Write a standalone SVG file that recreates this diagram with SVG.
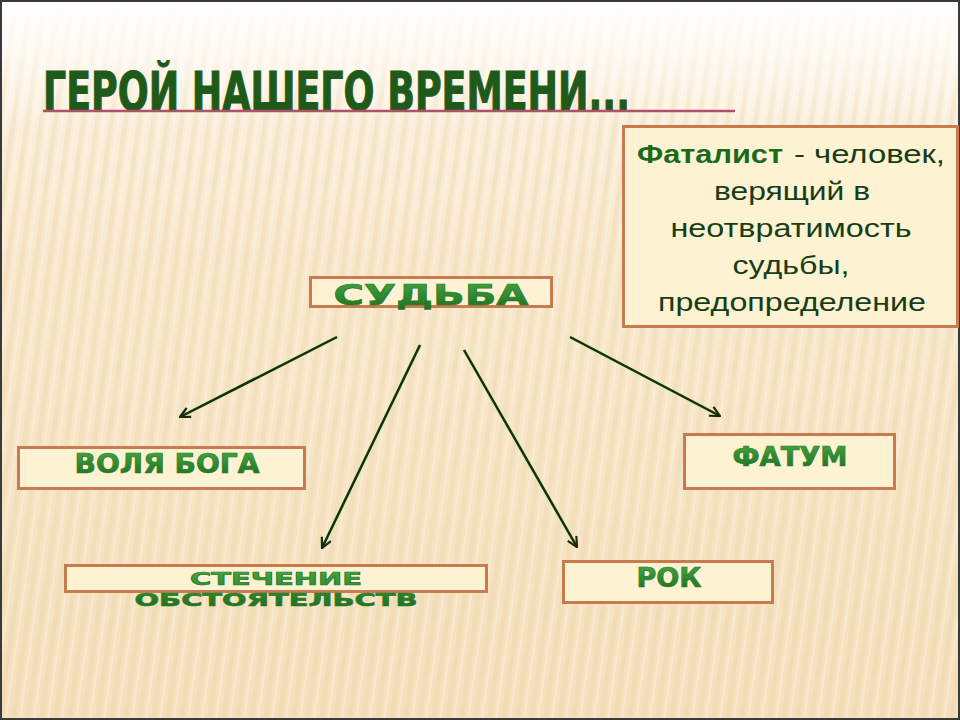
<svg xmlns="http://www.w3.org/2000/svg" width="960" height="720" viewBox="0 0 960 720">
<defs>
  <linearGradient id="bg" x1="0" y1="0" x2="0" y2="1">
    <stop offset="0" stop-color="#FDF5E6"/>
    <stop offset="0.35" stop-color="#F9E8CC"/>
    <stop offset="1" stop-color="#F5E0BC"/>
  </linearGradient>
  <pattern id="stripes" width="14" height="720" patternUnits="userSpaceOnUse" patternTransform="skewX(-8)">
    <rect x="0" y="0" width="5" height="720" fill="#E6CFA6" opacity="0.28"/>
    <rect x="8" y="0" width="2" height="720" fill="#FFFFFF" opacity="0.25"/>
  </pattern>
  <linearGradient id="fade" x1="0" y1="0" x2="0" y2="1">
    <stop offset="0" stop-color="#fff" stop-opacity="1"/>
    <stop offset="0.18" stop-color="#fff" stop-opacity="0"/>
    <stop offset="1" stop-color="#fff" stop-opacity="0"/>
  </linearGradient>
  <linearGradient id="green" x1="0" y1="0" x2="0" y2="1">
    <stop offset="0" stop-color="#45AA45"/>
    <stop offset="1" stop-color="#1D6B1D"/>
  </linearGradient>
  <marker id="arr" viewBox="0 0 12 12" refX="11" refY="6" markerWidth="12" markerHeight="12" markerUnits="userSpaceOnUse" orient="auto">
    <path d="M1,1 L11,6 L1,11" fill="none" stroke="#1A2A10" stroke-width="2.2"/>
  </marker>
  <style>
    .box { fill: #FDF2D2; stroke: #C87A50; stroke-width: 3; }
    .lbl { font-family: "DejaVu Sans", "Liberation Sans", sans-serif; font-weight: bold; fill: url(#green); stroke: #2A7A2A; stroke-width: 0.7; text-anchor: middle; }
    .def { font-family: "Liberation Sans", Arial, sans-serif; font-size: 26px; fill: #163E16; text-anchor: middle; }
    .glow { fill: none; stroke: #D8F0B0; stroke-width: 4.5; stroke-linecap: round; }
    .conn { fill: none; stroke: #1A2A10; stroke-width: 2.5; marker-end: url(#arr); }
  </style>
</defs>

<rect x="0" y="0" width="960" height="720" fill="url(#bg)"/>
<rect x="0" y="0" width="960" height="720" fill="url(#stripes)"/>
<rect x="0" y="0" width="960" height="720" fill="url(#fade)"/>
<rect x="1" y="1" width="958" height="718" fill="none" stroke="#3A3A3A" stroke-width="2"/>

<g id="title">
  <text x="43" y="110" font-family="Liberation Sans Narrow, DejaVu Sans Condensed, Liberation Sans, sans-serif" font-weight="bold" font-size="53" fill="#1F5A1A" stroke="#1F5A1A" stroke-width="1" textLength="587" lengthAdjust="spacingAndGlyphs">ГЕРОЙ НАШЕГО ВРЕМЕНИ...</text>
  <line x1="43" y1="111" x2="735" y2="111" stroke="#B0506A" stroke-width="2.5"/>
</g>

<g id="connectors">
  <line class="glow" x1="337" y1="337" x2="182" y2="416"/>
  <line class="conn" x1="337" y1="337" x2="180" y2="417"/>
  <line class="glow" x1="420" y1="345" x2="324" y2="545"/>
  <line class="conn" x1="420" y1="345" x2="322" y2="548"/>
  <line class="glow" x1="464" y1="350" x2="575" y2="544"/>
  <line class="conn" x1="464" y1="350" x2="577" y2="547"/>
  <line class="glow" x1="570" y1="337" x2="716" y2="414"/>
  <line class="conn" x1="570" y1="337" x2="720" y2="416"/>
</g>

<g id="fatalist">
  <rect class="box" x="623.5" y="126.5" width="334" height="200"/>
  <text class="def" x="637" y="163" font-weight="bold" style="text-anchor:start;fill:#1A6A1A" textLength="146" lengthAdjust="spacingAndGlyphs">Фаталист</text>
  <text class="def" x="794" y="163" style="text-anchor:start" textLength="151" lengthAdjust="spacingAndGlyphs">- человек,</text>
  <text class="def" x="792" y="200" textLength="156" lengthAdjust="spacingAndGlyphs">верящий в</text>
  <text class="def" x="791" y="237" textLength="241" lengthAdjust="spacingAndGlyphs">неотвратимость</text>
  <text class="def" x="791" y="274" textLength="117" lengthAdjust="spacingAndGlyphs">судьбы,</text>
  <text class="def" x="792" y="311" textLength="268" lengthAdjust="spacingAndGlyphs">предопределение</text>
</g>

<g id="sudba">
  <rect class="box" x="310.5" y="277.5" width="241" height="29"/>
  <text class="lbl" x="431" y="305" font-size="29" textLength="195" lengthAdjust="spacingAndGlyphs">СУДЬБА</text>
</g>

<g id="volya">
  <rect class="box" x="18.5" y="447.5" width="286" height="41"/>
  <text class="lbl" x="167" y="473" font-size="26" textLength="185" lengthAdjust="spacingAndGlyphs">ВОЛЯ БОГА</text>
</g>

<g id="stechenie">
  <rect class="box" x="65.5" y="565.5" width="421" height="26"/>
  <text class="lbl" font-size="18"><tspan x="276" y="585" textLength="172" lengthAdjust="spacingAndGlyphs">СТЕЧЕНИЕ</tspan><tspan x="276" y="606" textLength="283" lengthAdjust="spacingAndGlyphs">ОБСТОЯТЕЛЬСТВ</tspan></text>
</g>

<g id="rok">
  <rect class="box" x="563.5" y="561.5" width="209" height="41"/>
  <text class="lbl" x="669" y="587" font-size="26" textLength="65" lengthAdjust="spacingAndGlyphs">РОК</text>
</g>

<g id="fatum">
  <rect class="box" x="684.5" y="434.5" width="210" height="54"/>
  <text class="lbl" x="790" y="466" font-size="27" textLength="115" lengthAdjust="spacingAndGlyphs">ФАТУМ</text>
</g>
</svg>
